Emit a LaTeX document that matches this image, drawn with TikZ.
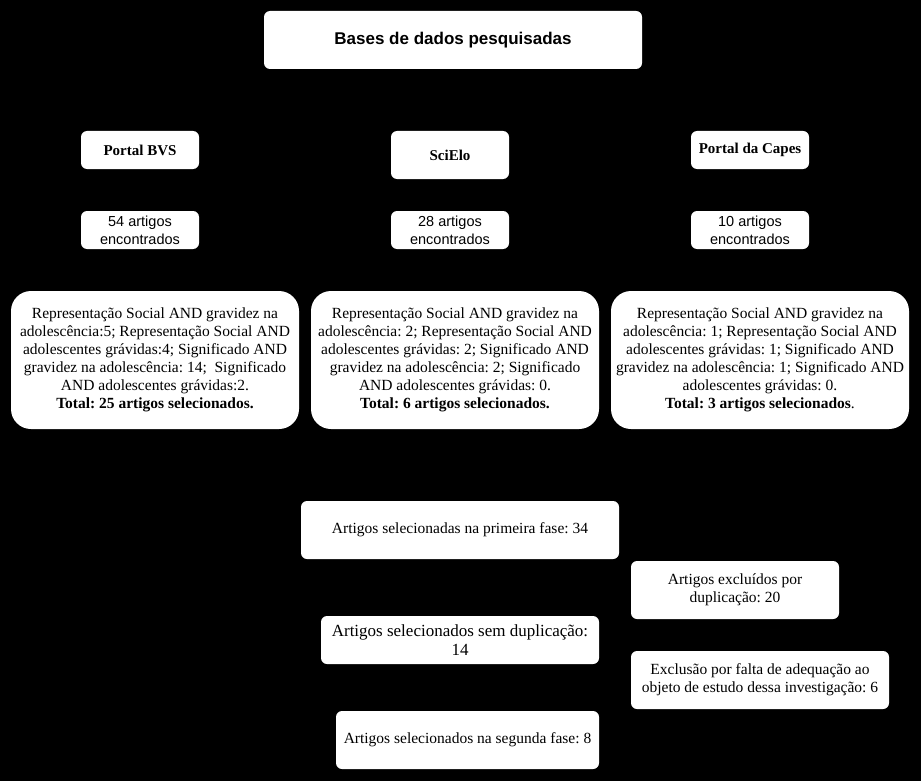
\documentclass[tikz,border=0pt]{standalone}
\usepackage{fontspec}
\setmainfont{Liberation Serif}
\newfontfamily\arialfont{Liberation Sans}
\usetikzlibrary{positioning}
\frenchspacing

\begin{document}
\begin{tikzpicture}[x=1pt,y=-1pt,
      box/.style={fill=white,rounded corners=6pt,align=center,inner sep=2pt,
                  font=\fontsize{15.5}{18}\selectfont},
      bigbox/.style={box,rounded corners=20pt},
      base/.style={box,font=\fontsize{15}{17}\selectfont\bfseries},
      count/.style={box,font=\arialfont\fontsize{14.5}{18}\selectfont},
  ]
  \useasboundingbox (0,0) rectangle (921,781);
  \fill[black] (0,0) rectangle (921,781);

  %--- title ---
  \node[box,minimum width=378pt,minimum height=58pt,
        font=\arialfont\fontsize{17}{20}\selectfont\bfseries] (bases) at (453,40) {Bases de dados pesquisadas};

  %--- databases ---
  \node[base,minimum width=118pt,minimum height=38pt] (bvs) at (140,150) {Portal BVS};
  \node[base,minimum width=118pt,minimum height=48pt] (scielo) at (450,155) {SciElo};
  \node[base,minimum width=118pt,minimum height=38pt] (capes) at (750,150) {Portal da Capes};

  \node[count,minimum width=118pt,minimum height=38pt] (nbvs) at (140,230) {54 artigos\\encontrados};
  \node[count,minimum width=118pt,minimum height=38pt] (nscielo) at (450,230) {28 artigos\\encontrados};
  \node[count,minimum width=118pt,minimum height=38pt] (ncapes) at (750,230) {10 artigos\\encontrados};

  %--- searches ---
  \node[bigbox,minimum width=288pt,minimum height=138pt] (sbvs) at (155,360)
    {Representação Social AND gravidez na\\adolescência:5; Representação Social AND\\adolescentes grávidas:4; Significado AND\\gravidez na adolescência: 14;\ \ Significado\\AND adolescentes grávidas:2.\\\textbf{Total: 25 artigos selecionados.}};
  \node[bigbox,minimum width=288pt,minimum height=138pt] (sscielo) at (455,360)
    {Representação Social AND gravidez na\\adolescência: 2; Representação Social AND\\adolescentes grávidas: 2; Significado AND\\gravidez na adolescência: 2; Significado\\AND adolescentes grávidas: 0.\\\textbf{Total: 6 artigos selecionados.}};
  \node[bigbox,minimum width=298pt,minimum height=138pt] (scapes) at (760,360)
    {Representação Social AND gravidez na\\adolescência: 1; Representação Social AND\\adolescentes grávidas: 1; Significado AND\\gravidez na adolescência: 1; Significado AND\\adolescentes grávidas: 0.\\\textbf{Total: 3 artigos selecionados}.};

  %--- selection ---
  \node[box,minimum width=318pt,minimum height=58pt] (fase1) at (460,530) {Artigos selecionadas na primeira fase: 34};
  \node[box,minimum width=208pt,minimum height=58pt] (dup) at (735,590) {Artigos excluídos por\\duplicação: 20};
  \node[box,minimum width=278pt,minimum height=48pt,
        font=\fontsize{17}{19}\selectfont] (semdup) at (460,640) {Artigos selecionados sem duplicação:\\14};
  \node[box,minimum width=258pt,minimum height=58pt] (excl) at (760,680) {Exclusão por falta de adequação ao\\objeto de estudo dessa investigação: 6};
  \node[box,minimum width=263pt,minimum height=58pt] (fase2) at (467.5,740) {Artigos selecionados na segunda fase: 8};
\end{tikzpicture}
\end{document}
